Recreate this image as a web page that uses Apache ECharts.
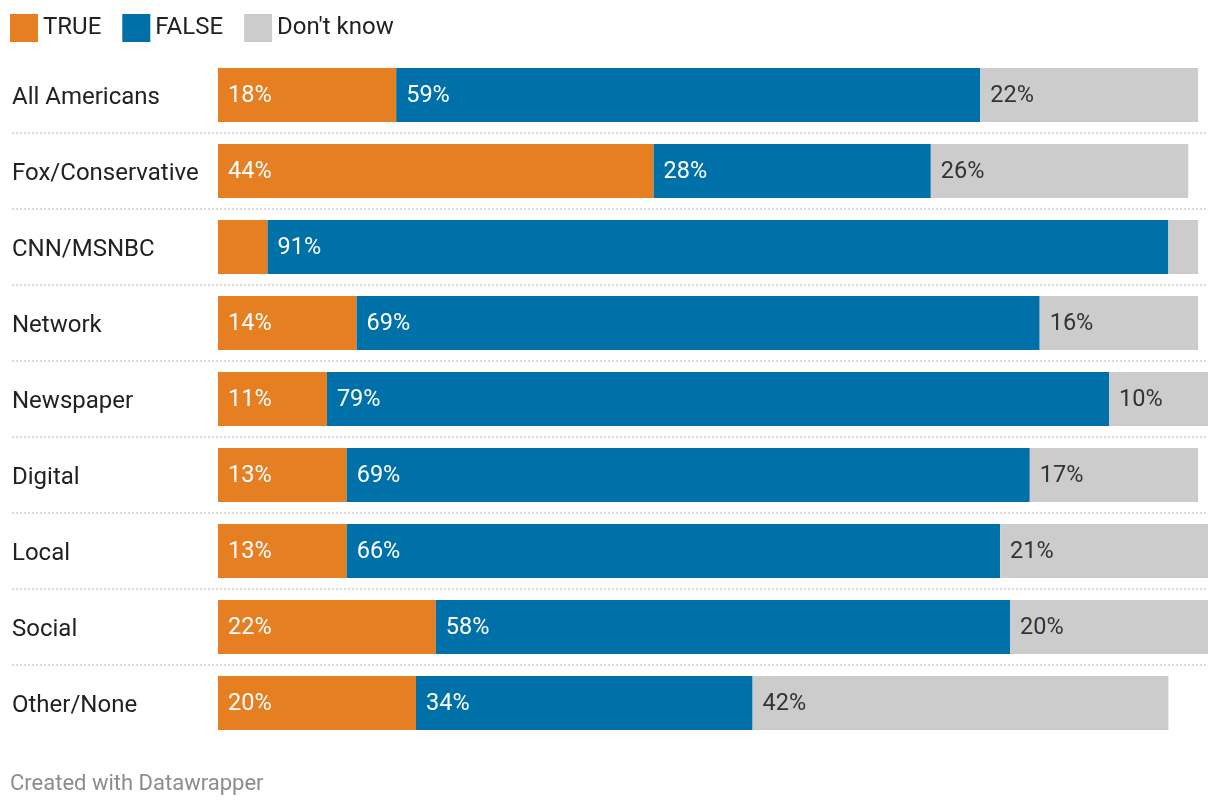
<!DOCTYPE html>
<html>
<head>
<meta charset="utf-8">
<script src="https://cdn.jsdelivr.net/npm/echarts@6/dist/echarts.min.js"></script>
<style>
html,body{margin:0;padding:0;background:#fff;}
#chart{width:1220px;height:808px;}
</style>
</head>
<body>
<div id="chart"></div>
<script>
const categories = ['All Americans','Fox/Conservative','CNN/MSNBC','Network','Newspaper','Digital','Local','Social','Other/None'];
const trueVals = [18,44,5,14,11,13,13,22,20];
const falseVals = [59,28,91,69,79,69,66,58,34];
const dkVals = [22,26,3,16,10,17,21,20,42];
const seriesNames = ['TRUE','FALSE',"Don't know"];
const colors = ['#e67e22','#0071a8','#cccccc'];
const labelColors = ['#ffffff','#ffffff','#333333'];
const FONT = 'Roboto, "Noto Sans", sans-serif';

const chart = echarts.init(document.getElementById('chart'), null, {renderer:'canvas'});
const dataSets = [trueVals, falseVals, dkVals];

const series = dataSets.map((vals, i) => ({
  name: seriesNames[i],
  type: 'bar',
  stack: 'total',
  xAxisIndex: 0,
  yAxisIndex: 0,
  barWidth: 54,
  itemStyle: {color: colors[i]},
  emphasis: {disabled: true},
  label: {
    show: true,
    position: 'insideLeft',
    distance: 10,
    offset: [0, 1.5],
    color: labelColors[i],
    fontFamily: FONT,
    fontSize: 23.5,
    formatter: p => p.value >= 6 ? p.value + '%' : ''
  },
  data: vals
}));

// separator lines between rows (band boundaries 1..8)
series.push({
  type: 'line',
  xAxisIndex: 1,
  yAxisIndex: 1,
  data: [],
  silent: true
});

chart.setOption({
  animation: false,
  backgroundColor: '#ffffff',
  color: colors,
  legend: {
    left: 10,
    top: 14,
    padding: 0,
    itemWidth: 28,
    itemHeight: 28,
    itemGap: 21,
    icon: 'rect',
    data: seriesNames,
    textStyle: {fontFamily: FONT, fontSize: 24, color: '#222222'}
  },
  graphic: [{
    type: 'text',
    left: 10,
    top: 773,
    style: {text: 'Created with Datawrapper', fill: '#8c8c8c', font: '22px ' + FONT}
  }],
  grid: [
    {left: 218, right: 12, top: 57, height: 684},
    {left: 12, right: 12, top: 133, height: 532}
  ],
  xAxis: [
    {type: 'value', gridIndex: 0, min: 0, max: 100, show: false},
    {type: 'value', gridIndex: 1, min: 0, max: 100, show: false}
  ],
  yAxis: [
    {
      type: 'category', gridIndex: 0, inverse: true, data: categories,
      axisLine: {show: false}, axisTick: {show: false}, splitLine: {show: false},
      axisLabel: {
        align: 'left', margin: 206,
        formatter: v => '{c|' + v + '}',
        rich: {c: {fontFamily: FONT, fontSize: 24, color: '#222222', padding: [5, 0, 0, 0]}}
      }
    },
    {
      type: 'value', gridIndex: 1, min: 0, max: 7, interval: 1,
      axisLine: {show: false}, axisTick: {show: false}, axisLabel: {show: false},
      splitLine: {show: true, lineStyle: {color: '#d9d9d9', width: 2, type: [2, 2]}}
    }
  ],
  series: series
});
</script>
</body>
</html>
